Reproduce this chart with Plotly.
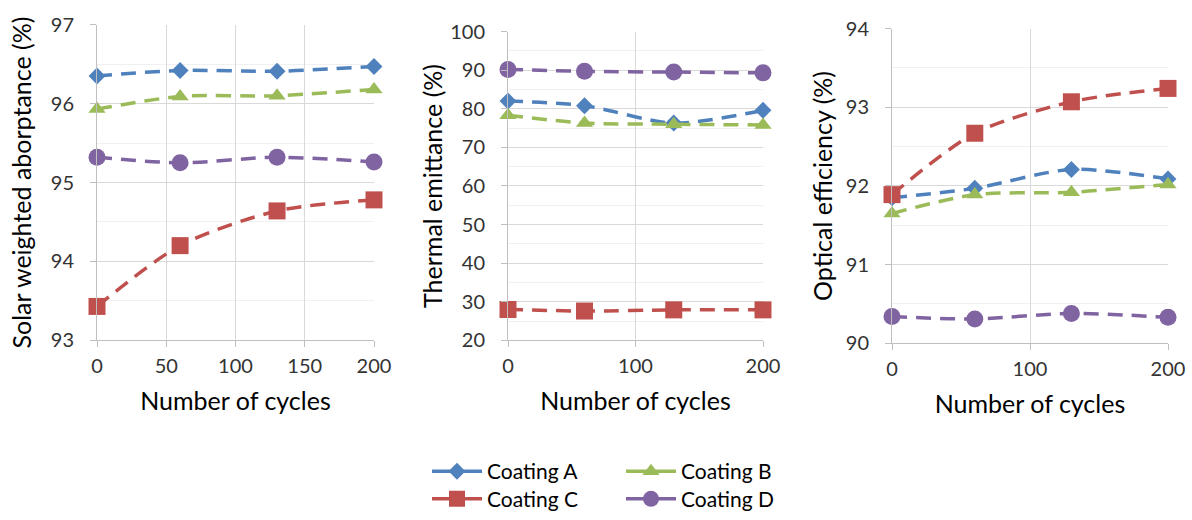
import plotly.graph_objects as go

cycles = [0, 60, 130, 200]
series_names = ["Coating A", "Coating B", "Coating C", "Coating D"]

absorptance_A = [96.35, 96.42, 96.41, 96.47]
absorptance_B = [95.93, 96.09, 96.10, 96.18]
absorptance_C = [93.43, 94.20, 94.64, 94.78]
absorptance_D = [95.32, 95.25, 95.32, 95.26]

emittance_A = [82.0, 80.8, 76.3, 79.6]
emittance_B = [78.3, 76.3, 76.0, 75.8]
emittance_C = [28.0, 27.6, 27.9, 27.9]
emittance_D = [90.2, 89.7, 89.5, 89.3]

efficiency_A = [91.85, 91.97, 92.21, 92.09]
efficiency_B = [91.65, 91.89, 91.92, 92.02]
efficiency_C = [91.89, 92.67, 93.07, 93.24]
efficiency_D = [90.34, 90.31, 90.38, 90.33]

colors = ["#4F81BD", "#9BBB59", "#C0504D", "#8064A2"]
symbols = ["diamond", "triangle-up", "square", "circle"]
msizes = [13, 15, 17, 17]

panels = [
    [absorptance_A, absorptance_B, absorptance_C, absorptance_D],
    [emittance_A, emittance_B, emittance_C, emittance_D],
    [efficiency_A, efficiency_B, efficiency_C, efficiency_D],
]

FONT = "Lato"
W, H = 1192, 520  # target picture size (the figure fills the browser viewport)

fig = go.Figure()
for p, data in enumerate(panels):
    xa = "x" if p == 0 else f"x{p+1}"
    ya = "y" if p == 0 else f"y{p+1}"
    for i, vals in enumerate(data):
        fig.add_trace(go.Scatter(
            x=cycles, y=vals, xaxis=xa, yaxis=ya,
            mode="lines+markers",
            name=series_names[i],
            legendgroup=series_names[i],
            showlegend=False,
            line=dict(color=colors[i], width=3.5, dash="15px,9px", shape="spline", smoothing=0.8),
            marker=dict(symbol=symbols[i], size=msizes[i], color=colors[i]),
            cliponaxis=False,
        ))

# legend entries (solid line samples as in the original legend)
for i, name in enumerate(series_names):
    fig.add_trace(go.Scatter(
        x=[None], y=[None], mode="lines+markers", name=name,
        legendgroup=name, showlegend=True,
        legend="legend" if i < 2 else "legend2",
        line=dict(color=colors[i], width=3.5),
        marker=dict(symbol=symbols[i], size=msizes[i], color=colors[i]),
    ))

def px_x(a):
    return a / W

def px_y(a):
    return 1 - a / H

def dx(a, b):
    return [px_x(a), px_x(b)]

def dy(top, bottom):
    return [px_y(bottom), px_y(top)]

grid = "#D9D9D9"
minor_grid = "#F0F0F0"
axis_font = dict(family=FONT, size=20, color="#333333")
title_font = dict(family=FONT, size=25, color="#000000")

xcommon = dict(range=[0, 200], showgrid=True, gridcolor=grid, gridwidth=1,
               showline=True, linecolor="#BFBFBF", linewidth=1,
               ticks="outside", ticklen=6, tickcolor="#BFBFBF", ticklabelstandoff=2,
               tickfont=axis_font, zeroline=False, automargin=False,
               title=dict(text="Number of cycles", font=title_font, standoff=16))
ycommon = dict(showgrid=True, gridcolor=grid, gridwidth=1,
               showline=True, linecolor="#BFBFBF", linewidth=1,
               ticks="outside", ticklen=6, tickcolor="#BFBFBF", ticklabelstandoff=12,
               tickfont=axis_font, zeroline=False, automargin=False)

legend_font = dict(family=FONT, size=21, color="#000000")

fig.update_layout(
    autosize=True,
    margin=dict(l=0, r=0, t=0, b=0),
    paper_bgcolor="white", plot_bgcolor="white",
    font=dict(family=FONT),
    xaxis=dict(domain=dx(97, 374), anchor="y", dtick=50, **xcommon),
    yaxis=dict(domain=dy(25, 345), anchor="x", range=[93, 97], dtick=1,
               minor=dict(dtick=0.5, showgrid=True, gridcolor=minor_grid, ticks=""),
               title=dict(text="Solar weighted aborptance (%)", font=title_font, standoff=12),
               **ycommon),
    xaxis2=dict(domain=dx(508, 763), anchor="y2", dtick=100, **xcommon),
    yaxis2=dict(domain=dy(32, 345), anchor="x2", range=[20, 100], dtick=10,
                minor=dict(dtick=5, showgrid=True, gridcolor=minor_grid, ticks=""),
                title=dict(text="Thermal emittance (%)", font=title_font, standoff=0),
                **ycommon),
    xaxis3=dict(domain=dx(892, 1168), anchor="y3", dtick=100, **xcommon),
    yaxis3=dict(domain=dy(29, 348), anchor="x3", range=[90, 94], dtick=1,
                minor=dict(dtick=0.5, showgrid=True, gridcolor=minor_grid, ticks=""),
                title=dict(text="Optical efficiency (%)", font=title_font, standoff=6),
                **ycommon),
    legend=dict(orientation="h", x=px_x(427), y=px_y(478), xanchor="left", yanchor="middle",
                entrywidth=129, entrywidthmode="pixels",
                font=legend_font, itemwidth=50,
                bgcolor="rgba(0,0,0,0)", tracegroupgap=0),
    legend2=dict(orientation="h", x=px_x(427), y=px_y(506), xanchor="left", yanchor="middle",
                 entrywidth=129, entrywidthmode="pixels",
                 font=legend_font, itemwidth=50,
                 bgcolor="rgba(0,0,0,0)", tracegroupgap=0),
)

# place the figure at the page origin (no default body margin)
pin_script = (
    "document.body.style.margin='0';"
    "var d=document.getElementById('{plot_id}');"
    "d.style.position='fixed';d.style.left='0px';d.style.top='0px';"
)

fig.write_html("out.html", post_script=pin_script,
               default_width="100vw", default_height="100vh",
               config={"displayModeBar": False})
